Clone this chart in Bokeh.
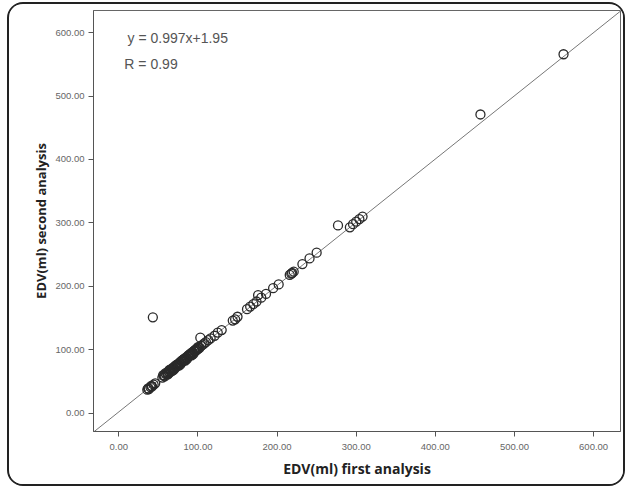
from bokeh.plotting import figure
from bokeh.models import (ColumnDataSource, FixedTicker, NumeralTickFormatter,
                          Label, Range1d)
from bokeh.embed import file_html
from bokeh.resources import INLINE

# ---- data ----
edv_first = [36, 37, 38, 40, 41, 42, 44, 46, 43,
             55, 56, 57, 58, 59, 60, 61, 62, 63, 64, 65, 66, 67, 68, 69, 70,
             71, 72, 73, 74, 75, 76, 77, 78, 79, 80, 81, 82, 83, 84, 85,
             86, 87, 88, 89, 90, 91, 92, 93, 94, 95, 96, 97, 98, 99, 100,
             101, 102, 104, 106, 108, 110, 113, 116, 121, 125, 130,
             62, 66, 70, 74, 78, 82, 86, 90, 94, 98,
             64, 68, 72, 76, 80, 84, 88, 92, 96, 100,
             103, 144, 147, 150, 162, 166, 170, 174, 176, 180, 186, 195,
             202, 216, 218, 219, 221, 232, 241, 250, 277, 292, 296, 300,
             304, 308, 457, 562]
edv_second = [37, 39, 38, 41, 43, 42, 45, 47, 151,
              56, 60, 59, 58, 63, 61, 64, 62, 66, 64, 68, 66, 70, 68, 72, 71,
              74, 72, 76, 75, 77, 78, 80, 79, 82, 81, 84, 83, 86, 85, 88,
              87, 90, 89, 92, 91, 94, 93, 96, 95, 98, 97, 100, 99, 102, 101,
              104, 103, 106, 108, 110, 112, 115, 118, 122, 127, 131,
              61, 69, 69, 77, 77, 85, 85, 93, 93, 101,
              68, 67, 75, 75, 83, 83, 91, 91, 99, 104,
              119, 146, 148, 152, 164, 168, 172, 176, 186, 182, 188, 197,
              203, 218, 220, 221, 223, 235, 244, 253, 296, 293, 298, 302,
              306, 310, 471, 566]

fit_slope = 0.997
fit_intercept = 1.95
axis_ticks = [0, 100, 200, 300, 400, 500, 600]
x_range_lim = (-32, 634)
y_range_lim = (-29, 635)

fit_x = [x_range_lim[0], x_range_lim[1]]
fit_y = [fit_slope * v + fit_intercept for v in fit_x]

p = figure(width=618, height=484, output_backend="svg", toolbar_location=None,
           x_range=Range1d(*x_range_lim), y_range=Range1d(*y_range_lim),
           min_border_left=84, min_border_right=7, min_border_top=6,
           min_border_bottom=57)
p.styles = {"border": "2px solid #222222", "border-radius": "16px",
            "margin-left": "7px", "margin-top": "2px", "overflow": "hidden"}
p.background_fill_color = "white"
p.border_fill_color = "white"
p.outline_line_color = "#666666"
p.outline_line_width = 1
p.xgrid.visible = False
p.ygrid.visible = False

p.line(fit_x, fit_y, line_color="#777777", line_width=1)

src = ColumnDataSource(dict(x=edv_first, y=edv_second))
p.scatter("x", "y", source=src, size=9, fill_color=None,
          line_color="#2a2a2a", line_width=1.3)

for ax in (p.xaxis[0], p.yaxis[0]):
    ax.ticker = FixedTicker(ticks=axis_ticks)
    ax.formatter = NumeralTickFormatter(format="0.00")
    ax.major_tick_in = 0
    ax.major_tick_out = 5
    ax.minor_tick_line_color = None
    ax.axis_line_color = "#555555"
    ax.major_tick_line_color = "#555555"
    ax.major_label_text_font = "Liberation Sans"
    ax.major_label_text_font_size = "9.5px"
    ax.major_label_text_color = "#666666"
    ax.axis_label_text_font = "Open Sans"
    ax.axis_label_text_font_style = "bold"
    ax.axis_label_text_color = "#222222"

p.xaxis.axis_label_text_font_size = "14px"
p.yaxis.axis_label_text_font_size = "13px"
p.xaxis.axis_label = "EDV(ml) first analysis"
p.yaxis.axis_label = "EDV(ml) second analysis"
p.xaxis.major_label_standoff = 7
p.xaxis.axis_label_standoff = 6
p.yaxis.major_label_standoff = 4
p.yaxis.axis_label_standoff = 2

p.add_layout(Label(x=11, y=592, text="y = 0.997x+1.95", text_font="Liberation Sans",
                   text_font_size="14px", text_color="#555555",
                   text_baseline="middle"))
p.add_layout(Label(x=7, y=551, text="R = 0.99", text_font="Liberation Sans",
                   text_font_size="14px", text_color="#555555",
                   text_baseline="middle"))

open("out.html", "w").write(file_html(p, INLINE))
